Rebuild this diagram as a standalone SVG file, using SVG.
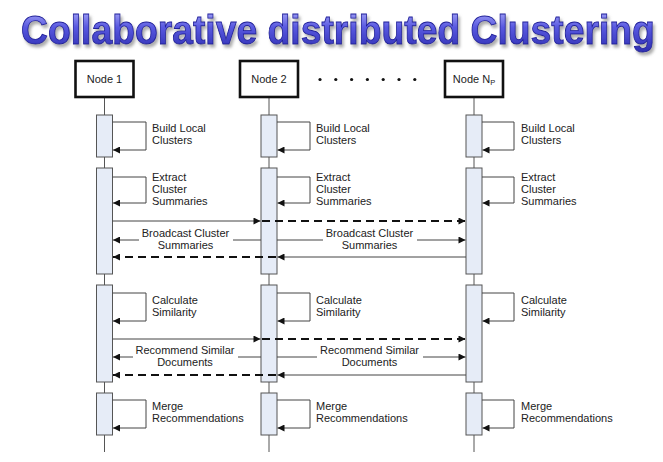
<svg xmlns="http://www.w3.org/2000/svg" width="663" height="462" viewBox="0 0 663 462">
<defs>
<linearGradient id="tg" x1="0" y1="0" x2="0" y2="1">
<stop offset="0" stop-color="#b4b4fa"/>
<stop offset="0.45" stop-color="#5858e0"/>
<stop offset="1" stop-color="#2e2eb0"/>
</linearGradient>
<filter id="sh" x="-3%" y="-20%" width="106%" height="150%">
<feGaussianBlur in="SourceAlpha" stdDeviation="1.5" result="b"/>
<feOffset in="b" dx="1.5" dy="3" result="o"/>
<feFlood flood-color="#888" flood-opacity="0.7"/>
<feComposite in2="o" operator="in" result="s"/>
<feMerge><feMergeNode in="s"/><feMergeNode in="SourceGraphic"/></feMerge>
</filter>
<marker id="ah" viewBox="0 0 10 10" refX="10" refY="5" markerWidth="8" markerHeight="7" markerUnits="userSpaceOnUse" orient="auto">
<path d="M0,0 L10,5 L0,10 z" fill="#111"/>
</marker>
</defs>
<style>
.t{font-family:"Liberation Sans",Arial,sans-serif;font-size:11px;fill:#222}
.tc{font-family:"Liberation Sans",Arial,sans-serif;font-size:11px;fill:#222;text-anchor:middle}
.title{font-family:"Liberation Sans",Arial,sans-serif;font-size:37.3px;font-weight:bold}
.hd{fill:#fff;stroke:#111;stroke-width:2.6}
.life{stroke:#555;stroke-width:1;fill:none}
.act{fill:#e6ecf7;stroke:#555;stroke-width:1}
.loop{fill:none;stroke:#444;stroke-width:1}
.msg{fill:none;stroke:#444;stroke-width:1}
.dash{fill:none;stroke:#111;stroke-width:1.8;stroke-dasharray:8 5}
</style>
<rect width="663" height="462" fill="#fff"/>
<g id="title" transform="translate(0,43.5) scale(1,1.07)">
<text class="title" x="21" y="0" fill="url(#tg)" stroke="#20209a" stroke-width="0.8" filter="url(#sh)">Collaborative distributed Clustering</text>
</g>
<g id="lifelines">
<line class="life" x1="104.5" y1="97" x2="104.5" y2="452"/>
<line class="life" x1="269" y1="97" x2="269" y2="452"/>
<line class="life" x1="474" y1="97" x2="474" y2="452"/>
</g>
<g id="node1">
<rect class="hd" x="75.5" y="61" width="58" height="36"/>
<text class="tc" x="104.5" y="83">Node 1</text>
</g>
<g id="node2">
<rect class="hd" x="240" y="61" width="58" height="36"/>
<text class="tc" x="269" y="83">Node 2</text>
</g>
<g id="nodeNp">
<rect class="hd" x="445" y="61" width="58" height="36"/>
<text class="tc" x="474" y="83">Node N<tspan font-size="7.5" dy="2">P</tspan></text>
</g>
<g id="ellipsis" fill="#111">
<circle cx="320" cy="79.5" r="1.6"/>
<circle cx="335.8" cy="79.5" r="1.6"/>
<circle cx="351.6" cy="79.5" r="1.6"/>
<circle cx="367.4" cy="79.5" r="1.6"/>
<circle cx="383.2" cy="79.5" r="1.6"/>
<circle cx="399" cy="79.5" r="1.6"/>
<circle cx="414.8" cy="79.5" r="1.6"/>
</g>
<g id="activations">
<rect class="act" x="96.5" y="115" width="16" height="42"/>
<rect class="act" x="96.5" y="168" width="16" height="106"/>
<rect class="act" x="96.5" y="285" width="16" height="97"/>
<rect class="act" x="96.5" y="393" width="16" height="42"/>
<rect class="act" x="261" y="115" width="16" height="42"/>
<rect class="act" x="261" y="168" width="16" height="106"/>
<rect class="act" x="261" y="285" width="16" height="97"/>
<rect class="act" x="261" y="393" width="16" height="42"/>
<rect class="act" x="466" y="115" width="16" height="42"/>
<rect class="act" x="466" y="168" width="16" height="106"/>
<rect class="act" x="466" y="285" width="16" height="97"/>
<rect class="act" x="466" y="393" width="16" height="42"/>
</g>
<g id="self-loops">
<path class="loop" d="M112.5,122 H146 V150 H113" marker-end="url(#ah)"/>
<path class="loop" d="M112.5,177 H146 V203 H113" marker-end="url(#ah)"/>
<path class="loop" d="M112.5,293 H146 V321 H113" marker-end="url(#ah)"/>
<path class="loop" d="M112.5,400 H146 V428 H113" marker-end="url(#ah)"/>
<path class="loop" d="M277,122 H310 V150 H277.5" marker-end="url(#ah)"/>
<path class="loop" d="M277,177 H310 V203 H277.5" marker-end="url(#ah)"/>
<path class="loop" d="M277,293 H310 V321 H277.5" marker-end="url(#ah)"/>
<path class="loop" d="M277,400 H310 V428 H277.5" marker-end="url(#ah)"/>
<path class="loop" d="M482,122 H514 V150 H482.5" marker-end="url(#ah)"/>
<path class="loop" d="M482,177 H514 V203 H482.5" marker-end="url(#ah)"/>
<path class="loop" d="M482,293 H514 V321 H482.5" marker-end="url(#ah)"/>
<path class="loop" d="M482,400 H514 V428 H482.5" marker-end="url(#ah)"/>
</g>
<g id="connectors">
<line class="msg" x1="112.5" y1="221" x2="260.5" y2="221" marker-end="url(#ah)"/>
<line class="dash" x1="262" y1="221" x2="465.5" y2="221" marker-end="url(#ah)"/>
<line class="msg" x1="139" y1="240" x2="113" y2="240" marker-end="url(#ah)"/>
<line class="msg" x1="261" y1="240" x2="233" y2="240"/>
<line class="msg" x1="277" y1="240" x2="323" y2="240"/>
<line class="msg" x1="417" y1="240" x2="465.5" y2="240" marker-end="url(#ah)"/>
<line class="msg" x1="466" y1="257" x2="277.5" y2="257" marker-end="url(#ah)"/>
<line class="dash" x1="276" y1="257" x2="113" y2="257" marker-end="url(#ah)"/>
<line class="msg" x1="112.5" y1="339" x2="260.5" y2="339" marker-end="url(#ah)"/>
<line class="dash" x1="262" y1="339" x2="465.5" y2="339" marker-end="url(#ah)"/>
<line class="msg" x1="133" y1="357" x2="113" y2="357" marker-end="url(#ah)"/>
<line class="msg" x1="261" y1="357" x2="238" y2="357"/>
<line class="msg" x1="277" y1="357" x2="317" y2="357"/>
<line class="msg" x1="423" y1="357" x2="465.5" y2="357" marker-end="url(#ah)"/>
<line class="msg" x1="466" y1="375" x2="277.5" y2="375" marker-end="url(#ah)"/>
<line class="dash" x1="276" y1="375" x2="113" y2="375" marker-end="url(#ah)"/>
</g>
<g id="labels">
<text class="t" x="152" y="132">Build Local</text>
<text class="t" x="152" y="144">Clusters</text>
<text class="t" x="152" y="181">Extract</text>
<text class="t" x="152" y="193">Cluster</text>
<text class="t" x="152" y="205">Summaries</text>
<text class="t" x="152" y="304">Calculate</text>
<text class="t" x="152" y="316">Similarity</text>
<text class="t" x="152" y="410">Merge</text>
<text class="t" x="152" y="422">Recommendations</text>
<text class="t" x="316" y="132">Build Local</text>
<text class="t" x="316" y="144">Clusters</text>
<text class="t" x="316" y="181">Extract</text>
<text class="t" x="316" y="193">Cluster</text>
<text class="t" x="316" y="205">Summaries</text>
<text class="t" x="316" y="304">Calculate</text>
<text class="t" x="316" y="316">Similarity</text>
<text class="t" x="316" y="410">Merge</text>
<text class="t" x="316" y="422">Recommendations</text>
<text class="t" x="521" y="132">Build Local</text>
<text class="t" x="521" y="144">Clusters</text>
<text class="t" x="521" y="181">Extract</text>
<text class="t" x="521" y="193">Cluster</text>
<text class="t" x="521" y="205">Summaries</text>
<text class="t" x="521" y="304">Calculate</text>
<text class="t" x="521" y="316">Similarity</text>
<text class="t" x="521" y="410">Merge</text>
<text class="t" x="521" y="422">Recommendations</text>
<text class="tc" x="185.5" y="237">Broadcast Cluster</text>
<text class="tc" x="185.5" y="249">Summaries</text>
<text class="tc" x="369.5" y="237">Broadcast Cluster</text>
<text class="tc" x="369.5" y="249">Summaries</text>
<text class="tc" x="185" y="354">Recommend Similar</text>
<text class="tc" x="185" y="366">Documents</text>
<text class="tc" x="369.5" y="354">Recommend Similar</text>
<text class="tc" x="369.5" y="366">Documents</text>
</g>
</svg>
